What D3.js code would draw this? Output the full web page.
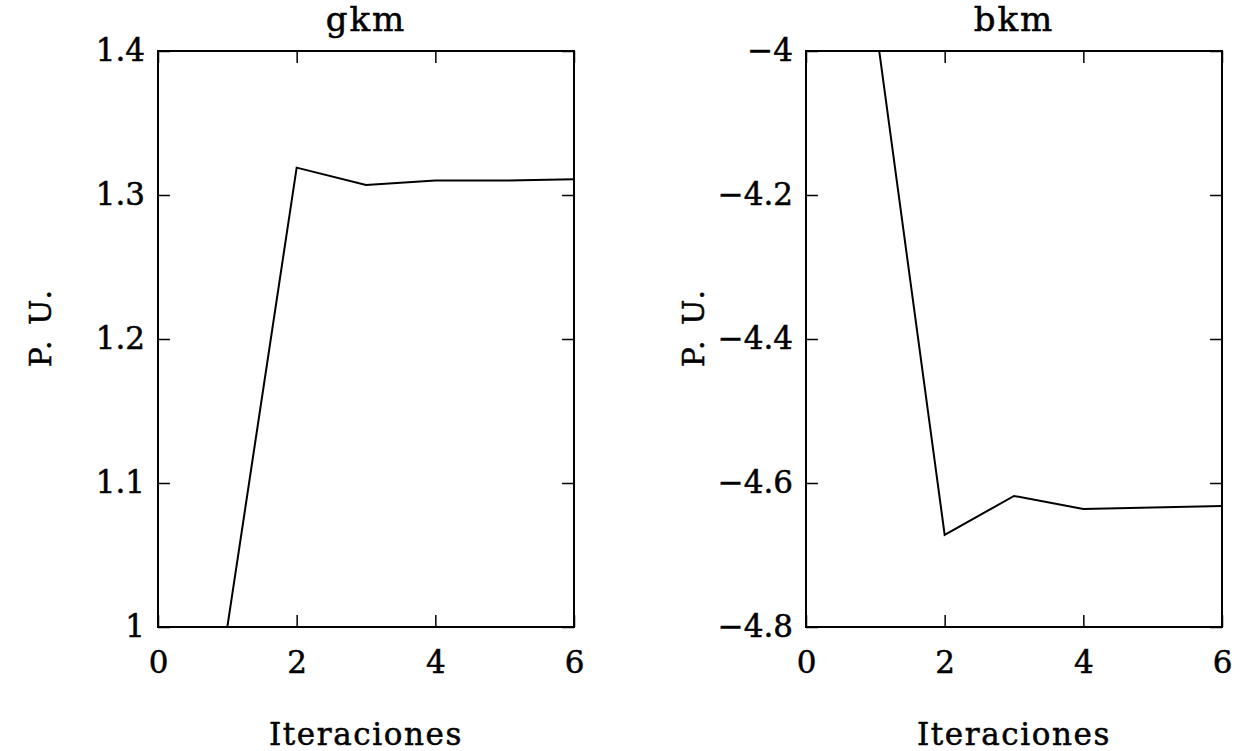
<!DOCTYPE html>
<html>
<head>
<meta charset="utf-8">
<script src="https://cdn.jsdelivr.net/npm/d3@7"></script>
<style>
  body { margin: 0; background: #fff; }
  text { font-family: "DejaVu Serif", serif; fill: #000; stroke: #000; stroke-width: 0.5px; }
</style>
</head>
<body>
<svg width="1240" height="751"></svg>
<script>
var iterations = [0, 1, 2, 3, 4, 5, 6];
var gkm = [1.0, 1.0, 1.319, 1.307, 1.310, 1.310, 1.311];
var bkm = [-3.9, -3.96, -4.672, -4.618, -4.636, -4.634, -4.632];
var xTicks = [0, 2, 4, 6];
var gkmTicks = [1, 1.1, 1.2, 1.3, 1.4];
var bkmTicks = [-4.8, -4.6, -4.4, -4.2, -4];

var svg = d3.select('svg');
var plotTop = 51, plotBottom = 627;

var panels = [
  { title: 'gkm', values: gkm, yDomain: [1, 1.4], yTicks: gkmTicks, left: 158, right: 574, ylab: 40 },
  { title: 'bkm', values: bkm, yDomain: [-4.8, -4], yTicks: bkmTicks, left: 806, right: 1222, ylab: 693 }
];

var fmt = d3.format('~g');

panels.forEach(function(p, k) {
  var x = d3.scaleLinear().domain([0, 6]).range([p.left, p.right]);
  var y = d3.scaleLinear().domain(p.yDomain).range([plotBottom, plotTop]);
  var g = svg.append('g');

  g.append('clipPath').attr('id', 'clip' + k)
    .append('rect')
    .attr('x', p.left).attr('y', plotTop)
    .attr('width', p.right - p.left).attr('height', plotBottom - plotTop);

  // inward ticks on all four sides
  var axes = [
    d3.axisLeft(y).tickValues(p.yTicks).tickSize(-12).tickPadding(13).tickFormat(fmt),
    d3.axisRight(y).tickValues(p.yTicks).tickSize(-12).tickFormat(''),
    d3.axisBottom(x).tickValues(xTicks).tickSize(-12).tickPadding(24).tickFormat(fmt),
    d3.axisTop(x).tickValues(xTicks).tickSize(-12).tickFormat('')
  ];
  var trans = [
    'translate(' + p.left + ',0)', 'translate(' + p.right + ',0)',
    'translate(0,' + plotBottom + ')', 'translate(0,' + plotTop + ')'
  ];
  axes.forEach(function(a, i) {
    var ag = g.append('g').attr('transform', trans[i]).call(a);
    ag.select('.domain').remove();
    ag.selectAll('line').attr('stroke', '#000').attr('stroke-width', 1.5);
    ag.selectAll('text').attr('font-size', 31).attr('font-family', '"DejaVu Serif", serif').attr('fill', '#000');
  });

  g.append('rect')
    .attr('x', p.left).attr('y', plotTop)
    .attr('width', p.right - p.left).attr('height', plotBottom - plotTop)
    .attr('fill', 'none').attr('stroke', '#000').attr('stroke-width', 2);

  var line = d3.line()
    .x(function(d, i) { return x(iterations[i]); })
    .y(function(d) { return y(d); });

  g.append('path')
    .datum(p.values)
    .attr('clip-path', 'url(#clip' + k + ')')
    .attr('d', line)
    .attr('fill', 'none')
    .attr('stroke', '#000')
    .attr('stroke-width', 2);

  g.append('text')
    .attr('x', (p.left + p.right) / 2).attr('y', 31)
    .attr('text-anchor', 'middle').attr('font-size', 34)
    .attr('letter-spacing', 2)
    .text(p.title);

  g.append('text')
    .attr('x', (p.left + p.right) / 2).attr('y', 745)
    .attr('text-anchor', 'middle').attr('font-size', 31)
    .attr('letter-spacing', 1.6)
    .text('Iteraciones');

  g.append('text')
    .attr('transform', 'translate(' + p.ylab + ',327) rotate(-90)')
    .attr('text-anchor', 'middle').attr('dy', '0.35em').attr('font-size', 30)
    .attr('letter-spacing', 3)
    .text('P. U.');
});
</script>
</body>
</html>
